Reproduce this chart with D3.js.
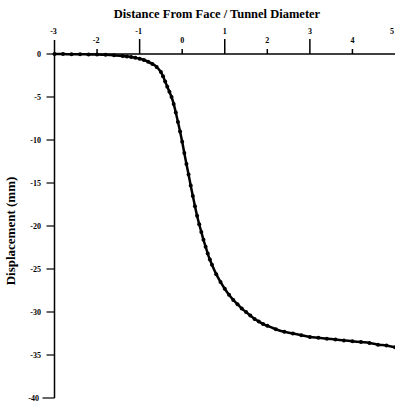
<!DOCTYPE html>
<html><head><meta charset="utf-8">
<script src="https://cdn.jsdelivr.net/npm/d3@7"></script>
<style>body{margin:0;background:#fff}svg{display:block}text{font-family:"Liberation Serif","DejaVu Serif",serif;font-weight:bold;fill:#000}</style>
</head><body><svg id="c" width="395" height="406"></svg>
<script>
const title = "Distance From Face / Tunnel Diameter";
const yLabel = "Displacement (mm)";
const xTicks = [-3,-2,-1,0,1,2,3,4,5];
const yTicks = [0,-5,-10,-15,-20,-25,-30,-35,-40];
const distance = [-3.0,-2.8,-2.6,-2.4,-2.2,-2.0,-1.8,-1.6,-1.4,-1.3,-1.2,-1.1,-1.0,-0.9,-0.8,-0.7,-0.6,-0.5,-0.45,-0.4,-0.35,-0.3,-0.25,-0.2,-0.15,-0.1,-0.05,0,0.05,0.1,0.15,0.2,0.25,0.3,0.35,0.4,0.45,0.5,0.55,0.6,0.65,0.7,0.8,0.9,1.0,1.1,1.2,1.3,1.4,1.5,1.6,1.7,1.8,1.9,2.0,2.2,2.4,2.6,2.8,3.0,3.2,3.4,3.6,3.8,4.0,4.2,4.4,4.6,4.8,5.0];
const displacement = [0,-0.01,-0.02,-0.03,-0.05,-0.07,-0.1,-0.15,-0.22,-0.28,-0.35,-0.45,-0.55,-0.7,-0.9,-1.15,-1.5,-2.1,-2.6,-3.2,-3.8,-4.4,-5.0,-5.8,-6.8,-7.9,-9.0,-10.2,-11.5,-12.8,-14.0,-15.3,-16.5,-17.7,-18.8,-19.8,-20.7,-21.6,-22.4,-23.2,-23.9,-24.5,-25.6,-26.5,-27.3,-28.0,-28.6,-29.1,-29.6,-30.0,-30.4,-30.8,-31.1,-31.4,-31.6,-32.0,-32.3,-32.5,-32.7,-32.9,-33.0,-33.1,-33.2,-33.3,-33.4,-33.5,-33.6,-33.8,-33.9,-34.1];

const svg = d3.select("#c");
const x = d3.scaleLinear().domain([-3,5]).range([54.5,395]);
const y = d3.scaleLinear().domain([0,-40]).range([54,398]);

// title
svg.append("text").attr("x",217).attr("y",18).attr("text-anchor","middle")
  .style("font-size","12.5px").text(title);
// y label
svg.append("text").attr("transform","translate(15,231) rotate(-90)").attr("text-anchor","middle")
  .style("font-size","13px").text(yLabel);

// x axis (top, at y=0)
const gx = svg.append("g");
gx.append("line").attr("x1",x(-3)).attr("x2",x(5)).attr("y1",y(0)).attr("y2",y(0))
  .attr("stroke","#000").attr("stroke-width",1.5);
xTicks.forEach(t=>{
  const odd = Math.abs(t)%2===1;
  const len = odd?15:5;
  if (t!==-3 && t!==5) gx.append("line").attr("x1",x(t)).attr("x2",x(t)).attr("y1",y(0)).attr("y2",y(0)-len)
    .attr("stroke","#000").attr("stroke-width",1.5);
  gx.append("text").attr("x",t===5?394:x(t)+(t<0?-1:0)).attr("y",odd?34:43)
    .attr("text-anchor",t===5?"end":"middle")
    .style("font-size","8px").text(t);
});

// y axis
const gy = svg.append("g");
gy.append("line").attr("x1",x(-3)).attr("x2",x(-3)).attr("y1",40).attr("y2",y(-40))
  .attr("stroke","#000").attr("stroke-width",1.5);
yTicks.forEach(t=>{
  gy.append("line").attr("x1",x(-3)-(t===-40?12:8)).attr("x2",x(-3)).attr("y1",y(t)).attr("y2",y(t))
    .attr("stroke","#000").attr("stroke-width",1.2);
  gy.append("text").attr("x",t===-40?39:41).attr("y",y(t)+3).attr("text-anchor","end")
    .style("font-size","8px").text(t);
});

const data = distance.map((d,i)=>({d, v:displacement[i]}));
const line = d3.line().x(p=>x(p.d)).y(p=>y(p.v)).curve(d3.curveMonotoneX);
svg.append("path").datum(data).attr("d",line).attr("fill","none").attr("stroke","#000").attr("stroke-width",2.5);
svg.selectAll("circle.pt").data(data).enter().append("circle").attr("class","pt")
  .attr("cx",p=>x(p.d)).attr("cy",p=>y(p.v)).attr("r",2).attr("fill","#000");
</script></body></html>
